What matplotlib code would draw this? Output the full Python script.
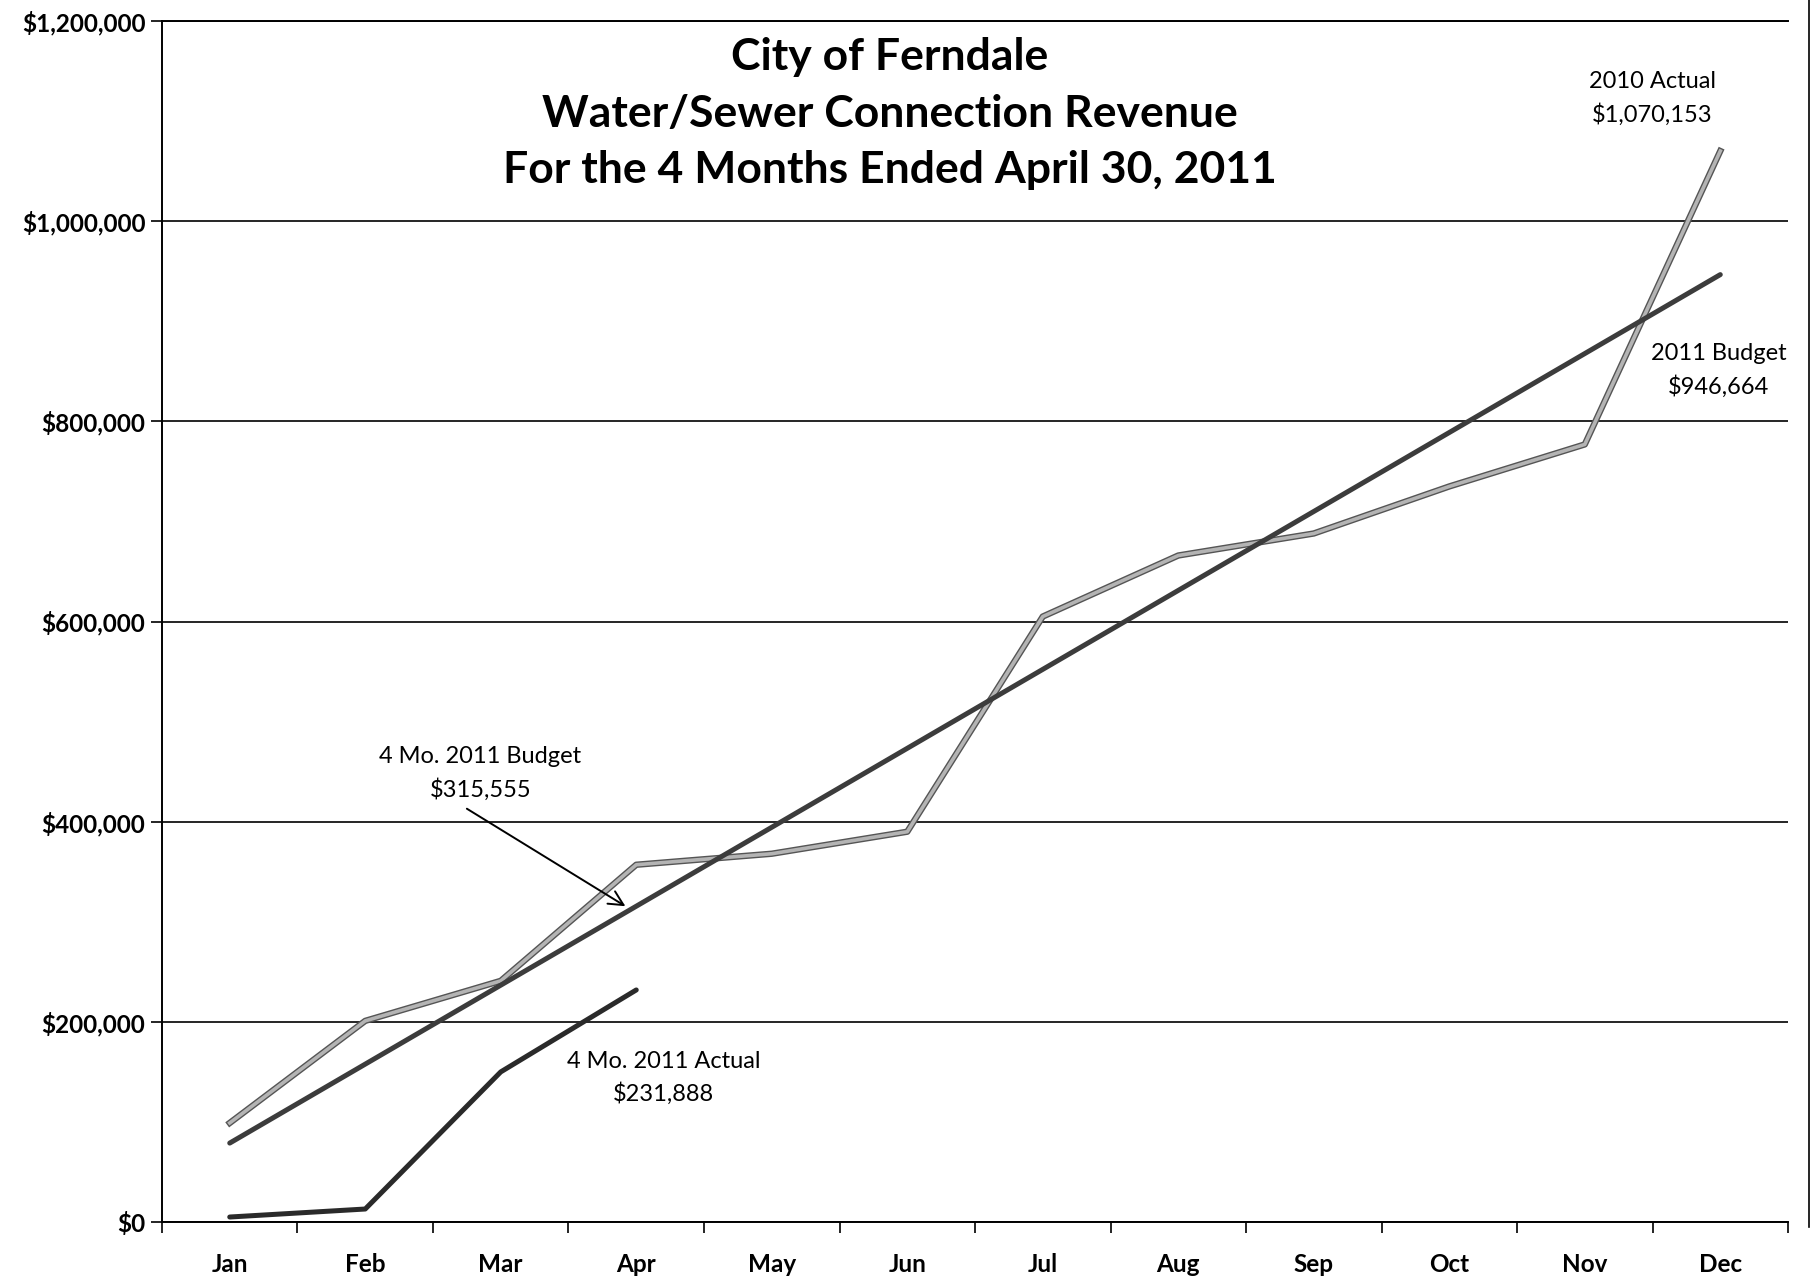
import matplotlib
matplotlib.use("Agg")
import matplotlib.pyplot as plt
import matplotlib.patheffects as pe
from matplotlib.lines import Line2D
from matplotlib.ticker import FuncFormatter, FixedLocator

months = ["Jan", "Feb", "Mar", "Apr", "May", "Jun",
          "Jul", "Aug", "Sep", "Oct", "Nov", "Dec"]

actual_2010 = [99000, 201000, 241000, 357000, 368000, 390000,
               605000, 666000, 688000, 735000, 777000, 1070153]
budget_2011 = [78889, 157777, 236666, 315555, 394443, 473332,
               552221, 631109, 709998, 788887, 867775, 946664]
actual_2011 = [5000, 13000, 150000, 231888]

plt.rcParams['font.family'] = ['Lato', 'DejaVu Sans']

fig = plt.figure(figsize=(18.16, 12.78), dpi=100)
ax = fig.add_axes([0.0892, 0.0438, 0.8954, 0.9397])

x = list(range(len(months)))

ax.plot(x, actual_2010, color='#b4b4b4', lw=2.6, solid_joinstyle='round',
        path_effects=[pe.Stroke(linewidth=4.6, foreground='#555555'), pe.Normal()], zorder=3)
ax.plot(x, budget_2011, color='#3c3c3c', lw=3.6, solid_capstyle='round', zorder=4)
ax.plot(x[:len(actual_2011)], actual_2011, color='#2a2a2a', lw=3.6,
        solid_capstyle='round', zorder=4)

ax.set_xlim(-0.5, 11.5)
ax.set_ylim(0, 1200000)

ax.set_yticks(range(0, 1200001, 200000))
ax.yaxis.set_major_formatter(FuncFormatter(lambda v, p: "${:,.0f}".format(v)))
ax.grid(axis='y', color='black', lw=1.2)
ax.set_axisbelow(True)

ax.set_xticks(x)
ax.set_xticklabels(months)
ax.xaxis.set_minor_locator(FixedLocator([i + 0.5 for i in range(-1, 12)]))
ax.tick_params(axis='x', which='major', length=0, pad=22)
ax.tick_params(axis='x', which='minor', length=8, width=1.2, direction='out')
ax.tick_params(axis='y', length=8, width=1.2, direction='out', pad=4)

for lab in ax.get_xticklabels() + ax.get_yticklabels():
    lab.set_fontweight('bold')
    lab.set_fontsize(17.5)

ax.spines['right'].set_visible(False)
for s in ['left', 'bottom', 'top']:
    ax.spines[s].set_linewidth(1.4)

fig.text(0.49, 0.911, "City of Ferndale\nWater/Sewer Connection Revenue\nFor the 4 Months Ended April 30, 2011",
         ha='center', va='center', fontsize=32, fontweight='bold', linespacing=1.5)

note = dict(ha='center', va='center', fontsize=17, linespacing=1.58)
ax.text(10.5, 1123000, "2010 Actual\n$1,070,153", **note)
ax.text(10.99, 851000, "2011 Budget\n$946,664", **note)
ax.text(3.2, 144000, "4 Mo. 2011 Actual\n$231,888", **note)
ax.text(1.85, 448000, "4 Mo. 2011 Budget\n$315,555", **note)
ax.annotate("", xy=(3 - 0.08, budget_2011[3]), xytext=(1.75, 413000),
            arrowprops=dict(arrowstyle='->', color='black', lw=1.4,
                            shrinkA=0, shrinkB=0, mutation_scale=26))

fig.add_artist(Line2D([0.996, 0.996], [0.04, 1.0], color='black', lw=1.2))

fig.savefig("out.png", dpi=100, facecolor='white')
